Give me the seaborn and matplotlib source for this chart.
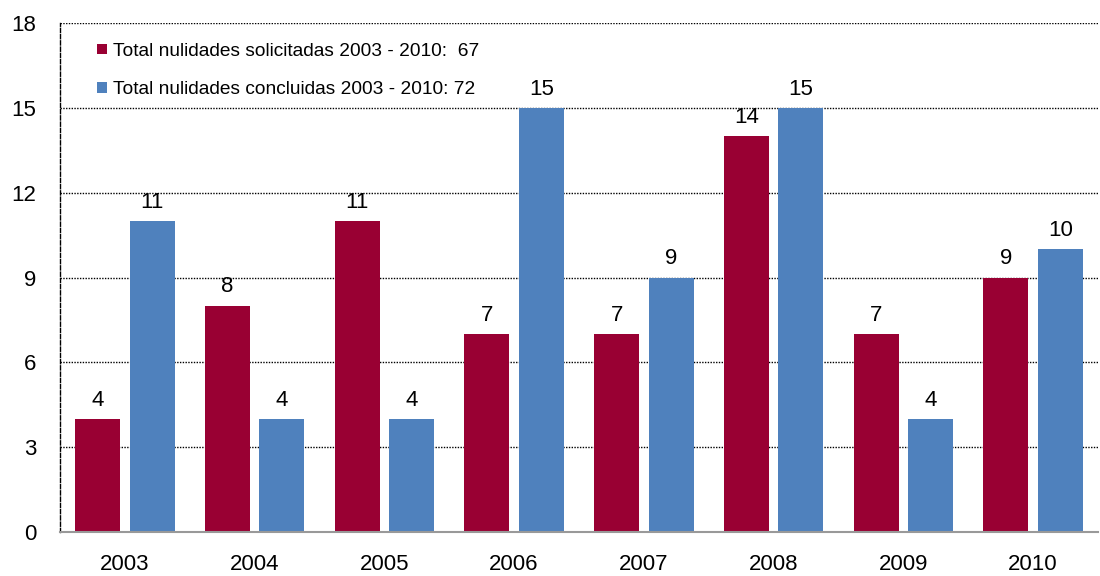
import matplotlib
matplotlib.use("Agg")
import matplotlib.pyplot as plt
import seaborn as sns
import pandas as pd

years = ["2003", "2004", "2005", "2006", "2007", "2008", "2009", "2010"]
solicitadas = [4, 8, 11, 7, 7, 14, 7, 9]
concluidas = [11, 4, 4, 15, 9, 15, 4, 10]
series_labels = ["Total nulidades solicitadas 2003 - 2010:  67",
                 "Total nulidades concluidas 2003 - 2010: 72"]
yticks = [0, 3, 6, 9, 12, 15, 18]
colors = ["#990033", "#4F81BD"]

df = pd.DataFrame({
    "year": years * 2,
    "value": solicitadas + concluidas,
    "serie": [series_labels[0]] * len(years) + [series_labels[1]] * len(years),
})

sns.set_theme(style="white")
plt.rcParams["font.family"] = ["Liberation Sans", "DejaVu Sans"]
plt.rcParams["text.color"] = "black"

fig = plt.figure(figsize=(11, 5.76), dpi=100)
ax = fig.add_axes([60 / 1100, 44 / 576, 1038 / 1100, 509 / 576])

sns.barplot(data=df, x="year", y="value", hue="serie", palette=colors,
            width=0.84, gap=0.17, saturation=1, linewidth=0, ax=ax, legend=True)

ax.set_ylim(0, 18)
ax.set_xlim(-0.5, len(years) - 0.5)
ax.set_yticks(yticks)
ax.set_yticklabels([str(t) for t in yticks])
ax.set_xlabel("")
ax.set_ylabel("")
ax.tick_params(axis="y", length=0, pad=17, labelsize=16, colors="black")
ax.tick_params(axis="x", length=0, pad=16, labelsize=16, colors="black")

for t in yticks[1:]:
    ax.axhline(t, color="black", linestyle=(0, (1, 1)), linewidth=1, zorder=0)

for s in ["top", "right"]:
    ax.spines[s].set_visible(False)
ax.spines["left"].set_linestyle((0, (3, 1.5)))
ax.spines["left"].set_color("black")
ax.spines["left"].set_linewidth(1)
ax.spines["bottom"].set_color("#999999")
ax.spines["bottom"].set_linewidth(1.5)

for c in ax.containers:
    ax.bar_label(c, fmt="%d", padding=6, fontsize=16, color="black")

leg = ax.legend(loc="upper left", bbox_to_anchor=(0.019, 0.995), frameon=False,
                fontsize=13.8, handlelength=0.5, handleheight=0.5,
                handletextpad=0.35, labelspacing=1.1, labelcolor="black")

fig.savefig("out.png", dpi=100)
